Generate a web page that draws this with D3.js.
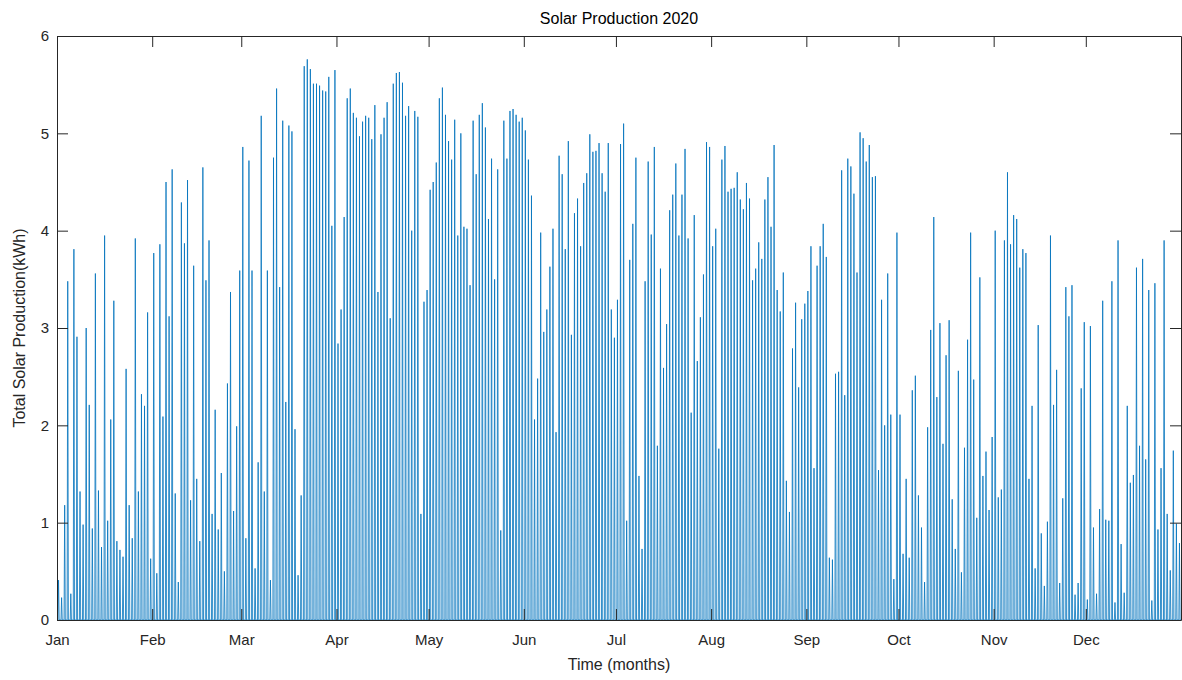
<!DOCTYPE html>
<html>
<head>
<meta charset="utf-8">
<script src="https://cdn.jsdelivr.net/npm/d3@7"></script>
<style>
  html, body { margin: 0; padding: 0; background: #ffffff; }
  svg { display: block; font-family: "Liberation Sans", Arial, Helvetica, sans-serif; }
</style>
</head>
<body>
<svg id="chart" width="1182" height="680"></svg>
<script>
// Daily peak solar production (kWh), one value per day of 2020
const jan = [0.41, 0.23, 1.18, 3.48, 0.27, 3.81, 2.91, 1.32, 0.98, 3.0, 2.21, 0.94, 3.56, 1.33, 0.75, 3.95,
             1.02, 2.06, 3.28, 0.81, 0.72, 0.65, 2.58, 1.18, 0.84, 3.92, 1.32, 2.32, 2.2, 3.16, 0.63];
const feb = [3.77, 0.48, 3.86, 2.09, 4.5, 3.12, 4.63, 1.3, 0.39, 4.29, 3.87, 4.52, 1.23, 3.64, 1.45, 0.81,
             4.65, 3.49, 3.9, 1.09, 2.16, 0.93, 1.51, 0.5, 2.43, 3.37, 1.12, 1.99, 3.59];
const mar = [4.86, 0.84, 4.72, 3.59, 0.53, 1.62, 5.18, 1.32, 3.59, 0.41, 4.75, 5.46, 3.42, 5.13, 2.24, 5.08,
             5.02, 1.96, 0.46, 1.28, 5.69, 5.76, 5.66, 5.51, 5.51, 5.49, 5.44, 5.43, 5.58, 4.05, 5.65];
const apr = [2.84, 3.19, 4.14, 5.36, 5.46, 5.21, 5.16, 4.97, 5.12, 5.18, 5.16, 4.94, 5.29, 3.37, 4.99, 5.16,
             5.32, 3.1, 5.51, 5.62, 5.63, 5.52, 5.18, 5.28, 4.0, 5.23, 5.17, 1.09, 3.27, 3.39];
const may = [4.42, 4.5, 4.7, 5.36, 5.47, 5.19, 4.92, 4.73, 5.14, 3.95, 5.0, 4.04, 4.02, 3.44, 5.13, 4.58,
             5.19, 5.31, 5.06, 4.12, 4.74, 3.5, 4.63, 0.92, 5.13, 4.74, 5.23, 5.25, 5.19, 5.12, 5.16];
const jun = [5.03, 4.73, 4.36, 2.06, 2.48, 3.98, 2.96, 3.19, 3.63, 4.02, 1.93, 4.77, 4.58, 3.81, 4.92, 2.93,
             4.18, 4.33, 3.84, 4.49, 4.59, 4.99, 4.81, 4.82, 4.9, 4.59, 4.4, 4.9, 3.19, 2.9];
const jul = [3.29, 4.89, 5.1, 1.02, 3.7, 4.07, 4.75, 1.48, 0.73, 3.48, 4.71, 3.96, 4.86, 1.79, 3.61, 2.59,
             3.04, 4.21, 4.37, 4.69, 3.95, 4.37, 4.84, 3.92, 2.13, 4.16, 2.66, 3.11, 3.55, 4.91, 4.86];
const aug = [3.84, 4.02, 1.76, 4.73, 4.87, 4.4, 4.43, 4.44, 4.6, 4.32, 4.22, 4.49, 4.33, 3.49, 3.61, 3.88,
             3.71, 4.32, 4.55, 4.04, 4.88, 3.39, 3.17, 3.57, 1.43, 1.11, 2.79, 3.26, 2.39, 3.09, 3.25];
const sep = [3.38, 3.84, 1.56, 3.64, 3.84, 4.07, 3.73, 0.64, 0.62, 2.53, 2.55, 4.62, 2.31, 4.74, 4.66, 4.38,
             3.57, 5.01, 4.95, 4.71, 4.88, 4.55, 4.56, 1.54, 3.29, 2.0, 3.56, 2.11, 0.42, 3.98];
const oct = [2.11, 0.68, 1.45, 0.64, 2.36, 2.51, 1.28, 0.95, 0.39, 1.98, 2.98, 4.14, 2.29, 3.05, 1.81, 2.72,
             3.08, 1.24, 0.73, 2.56, 0.49, 1.77, 2.88, 3.98, 2.47, 1.05, 3.52, 1.48, 1.73, 1.13, 1.88];
const nov = [4.0, 1.26, 1.34, 3.9, 4.6, 3.86, 4.16, 4.12, 3.62, 3.81, 3.77, 1.45, 2.2, 0.53, 3.03, 0.89,
             0.35, 1.01, 3.95, 2.21, 2.57, 0.38, 1.25, 3.42, 3.12, 3.44, 0.26, 0.38, 2.38, 3.06];
const dec = [0.21, 3.02, 0.95, 0.27, 1.14, 3.28, 1.03, 1.02, 3.48, 0.18, 3.9, 0.78, 0.28, 2.2, 1.41, 1.49,
             3.62, 1.79, 3.71, 1.65, 3.39, 0.2, 3.46, 0.93, 1.56, 3.9, 1.09, 0.51, 1.74, 0.99, 0.79];

const monthLabels = ["Jan", "Feb", "Mar", "Apr", "May", "Jun", "Jul", "Aug", "Sep", "Oct", "Nov", "Dec"];
const yTicks = [0, 1, 2, 3, 4, 5, 6];

const dailyPeak = [].concat(jan, feb, mar, apr, may, jun, jul, aug, sep, oct, nov, dec);

const width = 1182, height = 680;
const margin = { left: 57, right: 1, top: 36, bottom: 60 };
const ink = "#262626";
const lineColor = "#0072BD";
const DAY = 864e5;
const start = Date.UTC(2020, 0, 1);
const end = Date.UTC(2021, 0, 1);

const svg = d3.select("#chart");

const x = d3.scaleUtc()
  .domain([new Date(start), new Date(end)])
  .range([margin.left, width - margin.right]);
const y = d3.scaleLinear()
  .domain([0, 6])
  .range([height - margin.bottom, margin.top]);

// Each day rises from zero to its peak around midday and falls back
const pts = [[new Date(start), 0]];
dailyPeak.forEach((v, i) => {
  const t0 = start + i * DAY;
  pts.push([new Date(t0 + 0.3 * DAY), 0]);
  pts.push([new Date(t0 + 0.5 * DAY), v]);
  pts.push([new Date(t0 + 0.7 * DAY), 0]);
});
pts.push([new Date(end), 0]);

svg.append("clipPath").attr("id", "plotClip")
  .append("rect")
  .attr("x", margin.left).attr("y", margin.top - 1)
  .attr("width", width - margin.right - margin.left)
  .attr("height", height - margin.bottom - margin.top + 2);

svg.append("path")
  .datum(pts)
  .attr("clip-path", "url(#plotClip)")
  .attr("fill", "none")
  .attr("stroke", lineColor)
  .attr("stroke-width", 0.8)
  .attr("stroke-linejoin", "miter")
  .attr("d", d3.line().x(d => x(d[0])).y(d => y(d[1])));

// Axes with inward ticks on all four sides
const tickLen = 11;
const monthTicks = d3.utcMonth.range(new Date(start), new Date(end));
const fmtMonth = d => monthLabels[d.getUTCMonth()];

const xBottom = svg.append("g")
  .attr("transform", `translate(0,${height - margin.bottom})`)
  .call(d3.axisBottom(x).tickValues(monthTicks).tickFormat(fmtMonth).tickSizeInner(-tickLen).tickSizeOuter(0).tickPadding(14));
const xTop = svg.append("g")
  .attr("transform", `translate(0,${margin.top})`)
  .call(d3.axisTop(x).tickValues(monthTicks).tickFormat("").tickSizeInner(-tickLen).tickSizeOuter(0));
const yLeft = svg.append("g")
  .attr("transform", `translate(${margin.left},0)`)
  .call(d3.axisLeft(y).tickValues(yTicks).tickFormat(d3.format("d")).tickSizeInner(-tickLen).tickSizeOuter(0).tickPadding(8));
const yRight = svg.append("g")
  .attr("transform", `translate(${width - margin.right},0)`)
  .call(d3.axisRight(y).tickValues(yTicks).tickFormat("").tickSizeInner(-tickLen).tickSizeOuter(0));

[xBottom, xTop, yLeft, yRight].forEach(g => {
  g.select(".domain").attr("stroke", ink).attr("stroke-width", 1);
  g.selectAll(".tick line").attr("stroke", ink).attr("stroke-width", 1);
  g.selectAll(".tick text").attr("fill", ink).style("font-size", "15px")
    .style("font-family", '"Liberation Sans", Arial, sans-serif');
});

// Title and axis labels
svg.append("text")
  .attr("x", (margin.left + width - margin.right) / 2)
  .attr("y", 24)
  .attr("text-anchor", "middle")
  .attr("fill", "#000")
  .style("font-size", "16px")
  .text("Solar Production 2020");

svg.append("text")
  .attr("x", (margin.left + width - margin.right) / 2)
  .attr("y", 670)
  .attr("text-anchor", "middle")
  .attr("fill", ink)
  .style("font-size", "16px")
  .text("Time (months)");

svg.append("text")
  .attr("transform", `translate(25,${(margin.top + height - margin.bottom) / 2}) rotate(-90)`)
  .attr("text-anchor", "middle")
  .attr("fill", ink)
  .style("font-size", "16px")
  .text("Total Solar Production(kWh)");
</script>
</body>
</html>
